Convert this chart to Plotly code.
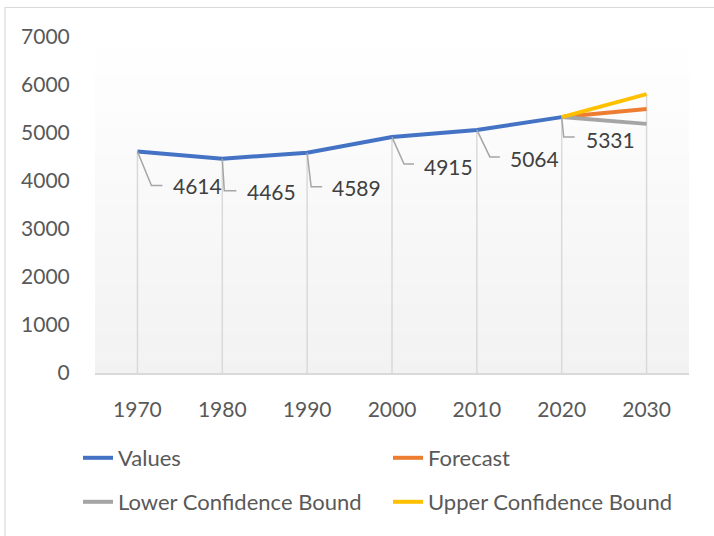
import plotly.graph_objects as go

# ---- data ----
years = ["1970", "1980", "1990", "2000", "2010", "2020", "2030"]
values = [4614, 4465, 4589, 4915, 5064, 5331]
forecast_years = ["2020", "2030"]
forecast = [5331, 5500]
lower_bound = [5331, 5190]
upper_bound = [5331, 5810]
y_ticks = [0, 1000, 2000, 3000, 4000, 5000, 6000, 7000]

FONT = "Lato"
W, H = 714, 536
ML, MR, MT, MB = 95, 25, 37, 163

fig = go.Figure()

# drop lines (from the highest series value down to the axis)
series_by_year = {}
for yr, v in zip(years, values):
    series_by_year.setdefault(yr, []).append(v)
for arr in (forecast, lower_bound, upper_bound):
    for yr, v in zip(forecast_years, arr):
        series_by_year.setdefault(yr, []).append(v)
dx_, dy_ = [], []
for yr in years:
    dx_ += [yr, yr, None]
    dy_ += [max(series_by_year[yr]), 0, None]
fig.add_trace(go.Scatter(x=dx_, y=dy_, mode="lines", line=dict(color="#d9d9d9", width=1.5),
                         showlegend=False, hoverinfo="skip"))

fig.add_trace(go.Scatter(x=years[:len(values)], y=values, mode="lines", name="Values",
                         line=dict(color="#4472C4", width=4), legend="legend"))
fig.add_trace(go.Scatter(x=forecast_years, y=forecast, mode="lines", name="Forecast",
                         line=dict(color="#ED7D31", width=4), legend="legend"))
fig.add_trace(go.Scatter(x=forecast_years, y=lower_bound, mode="lines", name="Lower Confidence Bound",
                         line=dict(color="#A5A5A5", width=4), legend="legend2"))
fig.add_trace(go.Scatter(x=forecast_years, y=upper_bound, mode="lines", name="Upper Confidence Bound",
                         line=dict(color="#FFC000", width=4), legend="legend2"))

# gradient plot-area background (white at top to light grey at bottom)
shapes = []
N = 60
top_c, bot_c = (255, 255, 255), (242, 242, 242)
for k in range(N):
    t = (k + 0.5) / N
    c = tuple(round(top_c[j] + (bot_c[j] - top_c[j]) * t) for j in range(3))
    y1 = 1 - k / N
    y0 = 1 - (k + 1) / N - 0.002
    shapes.append(dict(type="rect", xref="paper", yref="paper", x0=0, x1=1, y0=max(y0, 0), y1=y1,
                       fillcolor="rgb(%d,%d,%d)" % c, line=dict(width=0), layer="below"))

# chart outer border
pw, ph = W - ML - MR, H - MT - MB
shapes.append(dict(type="rect", xref="paper", yref="paper",
                   x0=(5 - ML) / pw, x1=(W + 10 - ML) / pw,
                   y0=(H - MB - (H + 10)) / ph, y1=(H - MB - 7.5) / ph,
                   line=dict(color="#d9d9d9", width=1.2), fillcolor="rgba(0,0,0,0)", layer="below"))

# data label leader lines and labels (pixel offsets)
leader = [  # (dx, dy, horizontal end, text dx, text dy)
    (14, 34, 25, 34, 34),
    (2, 32, 14, 23, 33),
    (4, 34, 15, 23, 35),
    (12, 27, 22, 30, 29),
    (13, 27, 23, 31, 29),
    (2, 20, 13, 22, 22),
]
annotations = []
for i, (v, (lx, ly, hx, tx, ty)) in enumerate(zip(values, leader)):
    shapes.append(dict(type="path", xref="x", yref="y", xsizemode="pixel", ysizemode="pixel",
                       xanchor=i, yanchor=v,
                       path="M0,0 L%d,%d L%d,%d" % (lx, -ly, hx, -ly),
                       line=dict(color="#a6a6a6", width=1.5)))
    annotations.append(dict(x=i, y=v, xref="x", yref="y", text=str(v), showarrow=False,
                            xanchor="left", yanchor="middle", xshift=tx, yshift=-ty,
                            font=dict(family=FONT, size=21, color="#404040")))

def py(p):
    return (H - MB - p) / ph

def px(p):
    return (p - ML) / pw

legend_common = dict(orientation="h", xanchor="left", yanchor="middle",
                     font=dict(family=FONT, size=22, color="#595959"),
                     bgcolor="rgba(0,0,0,0)", entrywidth=265, entrywidthmode="pixels",
                     traceorder="normal")

fig.update_layout(
    width=W, height=H,
    margin=dict(l=ML, r=MR, t=MT, b=MB),
    paper_bgcolor="white", plot_bgcolor="white",
    font=dict(family=FONT, size=21, color="#595959"),
    xaxis=dict(type="category", categoryorder="array", categoryarray=years,
               range=[-0.5, len(years) - 0.5], showgrid=False, zeroline=False,
               showline=True, linecolor="#d9d9d9", linewidth=1.5,
               ticks="outside", ticklen=17, tickcolor="rgba(0,0,0,0)",
               tickfont=dict(family=FONT, size=21, color="#595959"), fixedrange=True),
    yaxis=dict(range=[0, 7000], tickvals=y_ticks, showgrid=False, zeroline=False,
               showline=False, ticks="outside", ticklen=20, tickcolor="rgba(0,0,0,0)",
               tickfont=dict(family=FONT, size=21, color="#595959"), fixedrange=True),
    legend=dict(x=px(78), y=py(458), **legend_common),
    legend2=dict(x=px(78), y=py(502), **legend_common),
    shapes=shapes,
    annotations=annotations,
    showlegend=True,
)

fig.write_html("out.html", config={"displayModeBar": False},
               post_script="document.body.style.margin='0';document.body.style.overflow='hidden';")
